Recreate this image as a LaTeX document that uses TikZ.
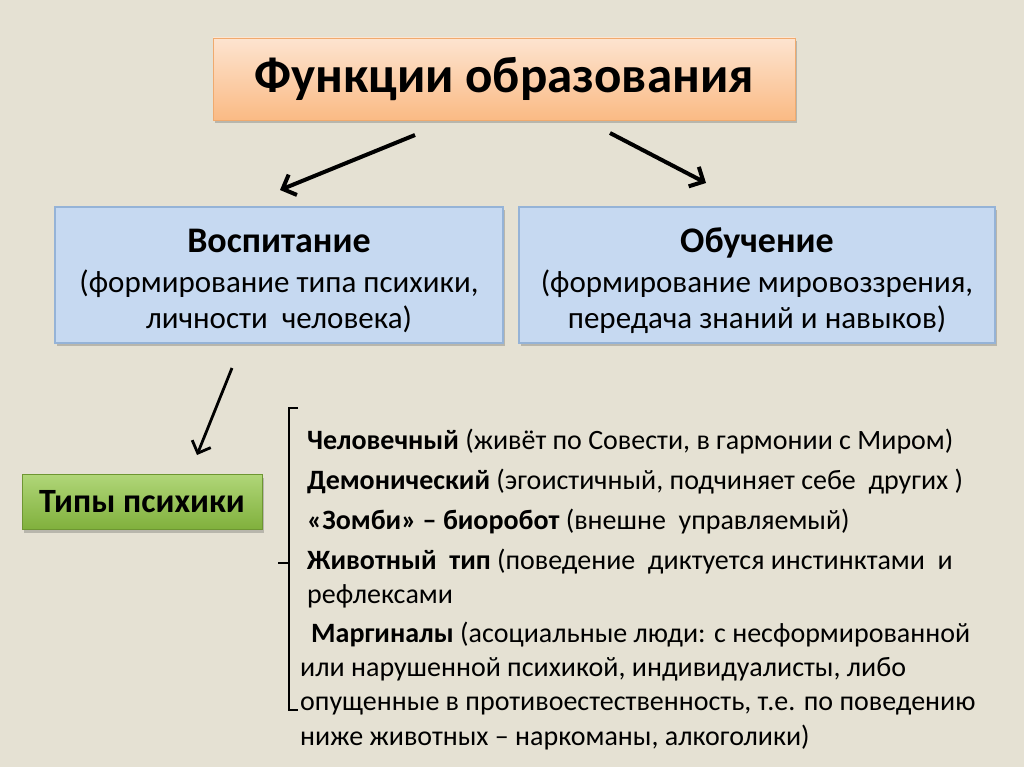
\documentclass[tikz,border=0pt]{standalone}
\usepackage{fontspec}
\setmainfont{Carlito}
\usetikzlibrary{arrows.meta,shadows}
\definecolor{bgc}{RGB}{229,225,211}
\definecolor{ortop}{RGB}{253,228,208}
\definecolor{orbot}{RGB}{250,186,132}
\definecolor{orbd}{RGB}{240,170,110}
\definecolor{bluef}{RGB}{198,217,241}
\definecolor{blued}{RGB}{149,179,215}
\definecolor{grtop}{RGB}{176,214,120}
\definecolor{grbot}{RGB}{128,176,60}
\definecolor{grbd}{RGB}{110,150,50}
\tikzset{
  boxshadow/.style={drop shadow={shadow xshift=2pt,shadow yshift=-3pt,opacity=0.35,fill=black!60}},
  titlebox/.style={draw=orbd,line width=0.8pt,top color=ortop,bottom color=orbot,boxshadow,
     font=\fontsize{51}{58}\selectfont\bfseries,inner sep=0pt},
  bluebox/.style={draw=blued,line width=1.5pt,fill=bluef,boxshadow,inner sep=0pt},
  bluetext/.style={align=center,inner sep=0pt,font=\fontsize{31}{36}\selectfont},
  headfont/.style={font=\fontsize{36}{40}\selectfont\bfseries},
  greenbox/.style={draw=grbd,line width=0.8pt,top color=grtop,bottom color=grbot,boxshadow,
     font=\fontsize{34}{38}\selectfont\bfseries,inner sep=0pt},
  listline/.style={anchor=base west,inner sep=0pt,font=\fontsize{28}{34}\selectfont},
  bigarrow/.style={line width=4pt,-{Straight Barb[length=11pt,width=22pt,line width=4pt]}},
  bracketline/.style={line width=1.8pt}
}
\begin{document}
\begin{tikzpicture}[x=1pt,y=-1pt]
\fill[bgc] (0,0) rectangle (1024,767);
\useasboundingbox (0,0) rectangle (1024,767);

\node[titlebox,minimum width=582pt,minimum height=82pt] (title) at (504,79) {Функции образования};

\node[bluebox,minimum width=448pt,minimum height=136pt] (vosp) at (279,275) {};
\node[bluebox,minimum width=476pt,minimum height=136pt] (obuch) at (757,275) {};
\node[headfont,anchor=base,inner sep=0pt] (vosph) at (279,252) {Воспитание};
\node[bluetext,anchor=base] (vospt1) at (279,292) {(формирование типа психики,};
\node[bluetext,anchor=base] (vospt2) at (279,328) {личности\ \ человека)};
\node[headfont,anchor=base,inner sep=0pt] (obuchh) at (757,252) {Обучение};
\node[bluetext,anchor=base] (obucht1) at (757,292) {(формирование мировоззрения,};
\node[bluetext,anchor=base] (obucht2) at (757,328) {передача знаний и навыков)};

\node[greenbox,minimum width=240pt,minimum height=55pt] (types) at (142,502) {Типы психики};

\coordinate (a1s) at (415,135); \coordinate (a1e) at (280,190);
\coordinate (a2s) at (610,133); \coordinate (a2e) at (706,183);
\coordinate (a3s) at (232,368); \coordinate (a3e) at (197,455);
\draw[bigarrow] (a1s) -- (a1e);
\draw[bigarrow] (a2s) -- (a2e);
\draw[line width=2.8pt,-{Straight Barb[length=10pt,width=20pt,line width=2.8pt]}] (a3s) -- (a3e);

% bracket
\draw[bracketline] (298,408) -- (289,408) -- (289,710) -- (298,710);
\draw[bracketline] (289,563) -- (278,563);

\node[listline] (l1) at (307,449) {\textbf{Человечный} (живёт по Совести, в гармонии с Миром)};
\node[listline] (l2) at (307,489) {\textbf{Демонический} (эгоистичный, подчиняет себе\ \ других )};
\node[listline] (l3) at (307,529) {\textbf{«Зомби» – биоробот} (внешне\ \ управляемый)};
\node[listline] (l4) at (307,569) {\textbf{Животный\ \ тип} (поведение\ \ диктуется инстинктами\ \ и};
\node[listline] (l5) at (307,603) {рефлексами};
\node[listline] (l6) at (311,642) {\textbf{Маргиналы} (асоциальные люди: с несформированной};
\node[listline] (l7) at (300,676) {или нарушенной психикой, индивидуалисты, либо};
\node[listline] (l8) at (300,710) {опущенные в противоестественность, т.е. по поведению};
\node[listline] (l9) at (300,745) {ниже животных – наркоманы, алкоголики)};
\end{tikzpicture}
\end{document}
